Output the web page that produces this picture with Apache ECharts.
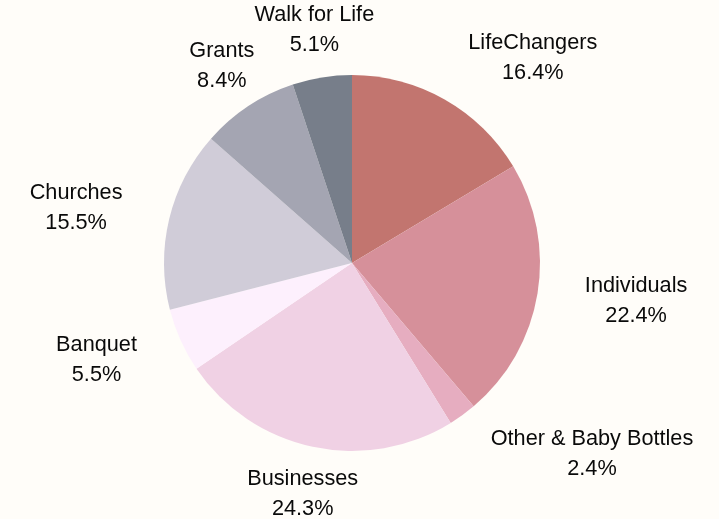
<!DOCTYPE html>
<html>
<head>
<meta charset="utf-8">
<script src="https://cdn.jsdelivr.net/npm/echarts@6/dist/echarts.min.js"></script>
<style>
  html, body { margin: 0; padding: 0; background: #fffdf9; }
  #chart { width: 719px; height: 519px; }
</style>
</head>
<body>
<div id="chart"></div>
<script>
// slices, clockwise from 12 o'clock
var categories = ['LifeChangers', 'Individuals', 'Other & Baby Bottles', 'Businesses', 'Banquet', 'Churches', 'Grants', 'Walk for Life']
var shares = [16.4, 22.4, 2.4, 24.3, 5.5, 15.5, 8.4, 5.1]

var colors = ['#c2756f', '#d6909a', '#e6adc0', '#f0d1e4', '#fdf0fd', '#d0ccd8', '#a4a5b2', '#777e8a']
// labels that sit centred over their anchor instead of beside it
var centredLabels = ['Businesses', 'Grants', 'Walk for Life']

var chart = echarts.init(document.getElementById('chart'))
chart.setOption({
  backgroundColor: '#fffdf9',
  animation: false,
  series: [
    {
      type: 'pie',
      center: [352, 263],
      radius: 188,
      startAngle: 90,
      clockwise: true,
      avoidLabelOverlap: false,
      color: colors,
      data: categories.map(function(name, i) {
        return { name: name, value: shares[i] }
      }),
      itemStyle: { borderWidth: 0 },
      emphasis: { disabled: true },
      label: {
        show: true,
        position: 'outside',
        distanceToLabelLine: 0,
        formatter: function(p) {
          return '{t|' + p.name + '}\n{t|' + p.value.toFixed(1) + '%}'
        },
        rich: {
          t: {
            align: 'center',
            fontFamily: 'Liberation Sans, Arial, sans-serif',
            fontSize: 21.7,
            lineHeight: 30,
            color: '#0a0a0a'
          }
        }
      },
      labelLine: { show: false, length: 48, length2: 0 },
      labelLayout: function(p) {
        if (centredLabels.indexOf(categories[p.dataIndex]) >= 0) {
          return { align: 'center' }
        }
        return {}
      }
    }
  ]
})
</script>
</body>
</html>
